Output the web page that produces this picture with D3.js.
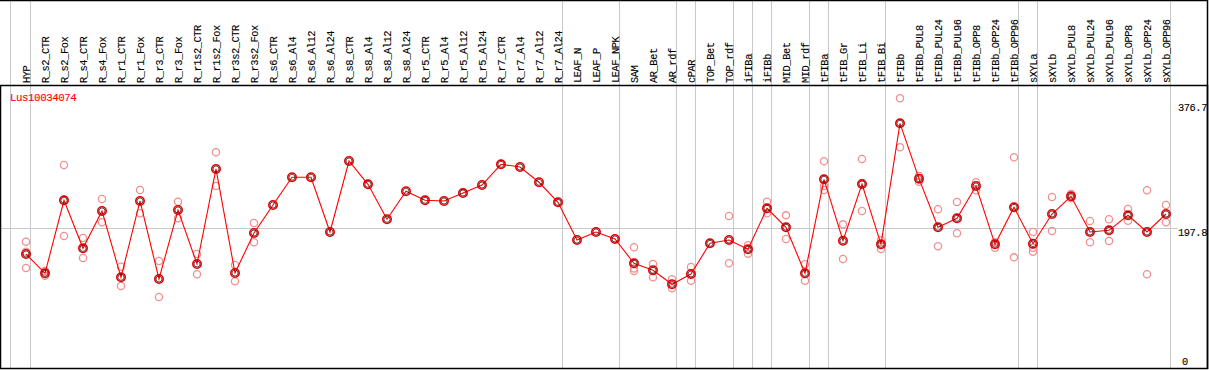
<!DOCTYPE html>
<html>
<head>
<meta charset="utf-8">
<script src="https://cdn.jsdelivr.net/npm/d3@7"></script>
<style>
  body { margin: 0; background: #fff; }
  text { font-family: "Liberation Mono", "DejaVu Sans Mono", monospace;
         font-size: 10.4px; letter-spacing: -0.45px; stroke-width: 0.1px; }
</style>
</head>
<body>
<script>
/* Sample names, in plot order */
var categories = ['HYP', 'R_s2_CTR', 'R_s2_Fox', 'R_s4_CTR', 'R_s4_Fox',
    'R_r1_CTR', 'R_r1_Fox', 'R_r3_CTR', 'R_r3_Fox', 'R_r1s2_CTR',
    'R_r1s2_Fox', 'R_r3s2_CTR', 'R_r3s2_Fox', 'R_s6_CTR', 'R_s6_Al4',
    'R_s6_Al12', 'R_s6_Al24', 'R_s8_CTR', 'R_s8_Al4', 'R_s8_Al12',
    'R_s8_Al24', 'R_r5_CTR', 'R_r5_Al4', 'R_r5_Al12', 'R_r5_Al24',
    'R_r7_CTR', 'R_r7_Al4', 'R_r7_Al12', 'R_r7_Al24', 'LEAF_N', 'LEAF_P',
    'LEAF_NPK', 'SAM', 'AR_Bet', 'AR_rdf', 'cPAR', 'TOP_Bet', 'TOP_rdf',
    'iFIBa', 'iFIBb', 'MID_Bet', 'MID_rdf', 'tFIBa', 'tFIB_Gr', 'tFIB_Li',
    'tFIB_Bi', 'tFIBb', 'tFIBb_PUL8', 'tFIBb_PUL24', 'tFIBb_PUL96',
    'tFIBb_OPP8', 'tFIBb_OPP24', 'tFIBb_OPP96', 'sXYLa', 'sXYLb',
    'sXYLb_PUL8', 'sXYLb_PUL24', 'sXYLb_PUL96', 'sXYLb_OPP8',
    'sXYLb_OPP24', 'sXYLb_OPP96'];

/* Mean expression per sample */
var means = [160.6, 133.2, 237.0, 168.7, 221.8, 127.5, 236.0, 125.1, 223.2,
    146.4, 281.5, 133.6, 190.5, 230.3, 269.7, 269.7, 191.9, 292.8, 259.7,
    210.0, 249.8, 237.0, 236.0, 247.3, 258.7, 288.1, 284.3, 262.6, 234.1,
    180.5, 191.9, 182.0, 147.4, 137.5, 117.6, 132.2, 175.8, 180.5, 167.3,
    225.6, 198.6, 133.2, 266.8, 179.5, 260.1, 174.4, 346.4, 267.7, 198.6,
    211.4, 257.3, 174.4, 227.0, 175.3, 217.5, 242.6, 191.9, 194.3, 215.6,
    191.9, 217.5];

/* Single replicate values per sample (empty where none are shown) */
var replicates = [
    [178.1, 163.9, 140.7], [136.5, 129.8], [287.1, 186.2], [183.4, 154.9],
    [238.8, 205.7], [142.6, 115.1], [251.6, 218.5], [150.7, 99.5],
    [235.0, 211.4], [160.6, 131.8], [305.2, 257.3], [145.0, 121.8],
    [204.7, 177.3], [], [], [], [], [], [], [], [], [], [], [], [], [], [],
    [], [], [], [], [], [170.2, 140.0, 136.5], [146.4, 127.5],
    [124.7, 111.9], [142.2, 122.7], [], [214.6, 147.4], [173.0, 161.1],
    [235.0, 218.5], [215.6, 182.0], [146.0, 122.7], [292.4, 257.3, 251.6],
    [202.8, 153.5], [295.7, 221.8], [180.1, 167.7], [382.0, 312.3],
    [271.5, 263.4], [224.2, 171.6], [234.5, 190.1], [262.6, 251.2],
    [177.3, 169.6], [298.1, 155.9], [191.9, 169.6, 163.9], [241.7, 193.3],
    [245.9, 239.8], [207.5, 177.3], [210.0, 179.1], [224.6, 208.0],
    [251.2, 131.8], [230.3, 205.7]];

/* Last sample of each tissue group; a separator follows each */
var groupEnds = ['HYP', 'R_r7_Al24', 'LEAF_NPK', 'AR_rdf', 'cPAR',
    'TOP_rdf', 'iFIBa', 'iFIBb', 'MID_rdf', 'tFIBa', 'tFIB_Bi',
    'tFIBb_OPP96', 'sXYLa', 'sXYLb_OPP96'];

var yTicks = [0, 197.8, 376.7];
var geneName = 'Lus10034074';

function draw() {
    var width = 1209, height = 370,
        headerBottom = 85, plotBottom = 368, frameRight = 1207;

    var svg = d3.select('body')
        .append('svg')
        .attr('width', width)
        .attr('height', height);

    /* Sample positions and expression scale */
    var x = d3.scalePoint()
        .domain(categories)
        .range([26, 1166]);
    var step = x.step();
    var y = d3.scaleLinear()
        .domain([0, 376.7])
        .range([367, 102]);

    /* Group separators, full height */
    var seps = [x(categories[0]) - step - 1].concat(groupEnds.map(function (d) {
        return x(d);
    }));
    svg.selectAll('line.sep')
        .data(seps)
        .enter()
        .append('line')
        .attr('class', 'sep')
        .attr('x1', function (d) { return Math.round(d + 4) + 0.5; })
        .attr('x2', function (d) { return Math.round(d + 4) + 0.5; })
        .attr('y1', 0)
        .attr('y2', plotBottom)
        .attr('stroke', '#c8c8c8')
        .attr('stroke-width', 1);

    /* Middle reference line */
    svg.append('line')
        .attr('x1', 0)
        .attr('x2', 1178)
        .attr('y1', Math.round(y(yTicks[1])) + 0.5)
        .attr('y2', Math.round(y(yTicks[1])) + 0.5)
        .attr('stroke', '#c8c8c8')
        .attr('stroke-width', 1);

    /* Frame */
    svg.append('line')
        .attr('x1', 0).attr('x2', frameRight + 1)
        .attr('y1', 0.5).attr('y2', 0.5)
        .attr('stroke', '#000').attr('stroke-width', 1.5);
    svg.append('line')
        .attr('x1', frameRight + 0.5).attr('x2', frameRight + 0.5)
        .attr('y1', 0).attr('y2', plotBottom + 1)
        .attr('stroke', '#000').attr('stroke-width', 1.5);
    svg.append('rect')
        .attr('x', 0.5)
        .attr('y', headerBottom + 0.5)
        .attr('width', frameRight)
        .attr('height', plotBottom - headerBottom)
        .attr('fill', 'none')
        .attr('stroke', '#000')
        .attr('stroke-width', 1.5);

    /* Rotated sample labels */
    svg.selectAll('text.cat')
        .data(categories)
        .enter()
        .append('text')
        .attr('class', 'cat')
        .attr('transform', function (d) {
            return 'translate(' + (Math.round(x(d)) + 3.5) + ',' + 83 + ') rotate(-90)';
        })
        .attr('fill', '#000')
        .attr('stroke', '#000')
        .text(function (d) { return d; });

    /* Axis values on the right */
    svg.selectAll('text.tick')
        .data(yTicks)
        .enter()
        .append('text')
        .attr('class', 'tick')
        .attr('x', function (d) { return d === 0 ? 1182 : 1178; })
        .attr('y', function (d) {
            return Math.min(y(d) + 8.5, 365);
        })
        .attr('fill', '#000')
        .attr('stroke', '#000')
        .text(function (d) { return d === 0 ? '0' : d3.format('.1f')(d); });

    /* Gene name */
    svg.append('text')
        .attr('x', 10)
        .attr('y', 101)
        .attr('fill', '#f00')
        .attr('stroke', '#f00')
        .style('font-size', '10.8px')
        .text(geneName);

    /* Replicate points */
    var reps = [];
    replicates.forEach(function (vals, i) {
        vals.forEach(function (v) { reps.push({c: categories[i], v: v}); });
    });
    svg.selectAll('circle.rep')
        .data(reps)
        .enter()
        .append('circle')
        .attr('class', 'rep')
        .attr('cx', function (d) { return x(d.c); })
        .attr('cy', function (d) { return y(d.v); })
        .attr('r', 3.6)
        .attr('fill', 'none')
        .attr('stroke', '#f09090')
        .attr('stroke-width', 1.3);

    /* Mean line */
    var line = d3.line()
        .x(function (d, i) { return x(categories[i]); })
        .y(function (d) { return y(d); });
    svg.append('path')
        .datum(means)
        .attr('d', line)
        .attr('fill', 'none')
        .attr('stroke', '#f00')
        .attr('stroke-width', 1.1);

    /* Mean points */
    svg.selectAll('circle.mean')
        .data(means)
        .enter()
        .append('circle')
        .attr('class', 'mean')
        .attr('cx', function (d, i) { return x(categories[i]); })
        .attr('cy', function (d) { return y(d); })
        .attr('r', 4.2)
        .attr('fill', 'none')
        .attr('stroke', '#e00000')
        .attr('stroke-width', 1.6);
    svg.selectAll('circle.core')
        .data(means)
        .enter()
        .append('circle')
        .attr('class', 'core')
        .attr('cx', function (d, i) { return x(categories[i]); })
        .attr('cy', function (d) { return y(d); })
        .attr('r', 3)
        .attr('fill', 'none')
        .attr('stroke', '#300')
        .attr('stroke-width', 0.7);
}

draw();
</script>
</body>
</html>
